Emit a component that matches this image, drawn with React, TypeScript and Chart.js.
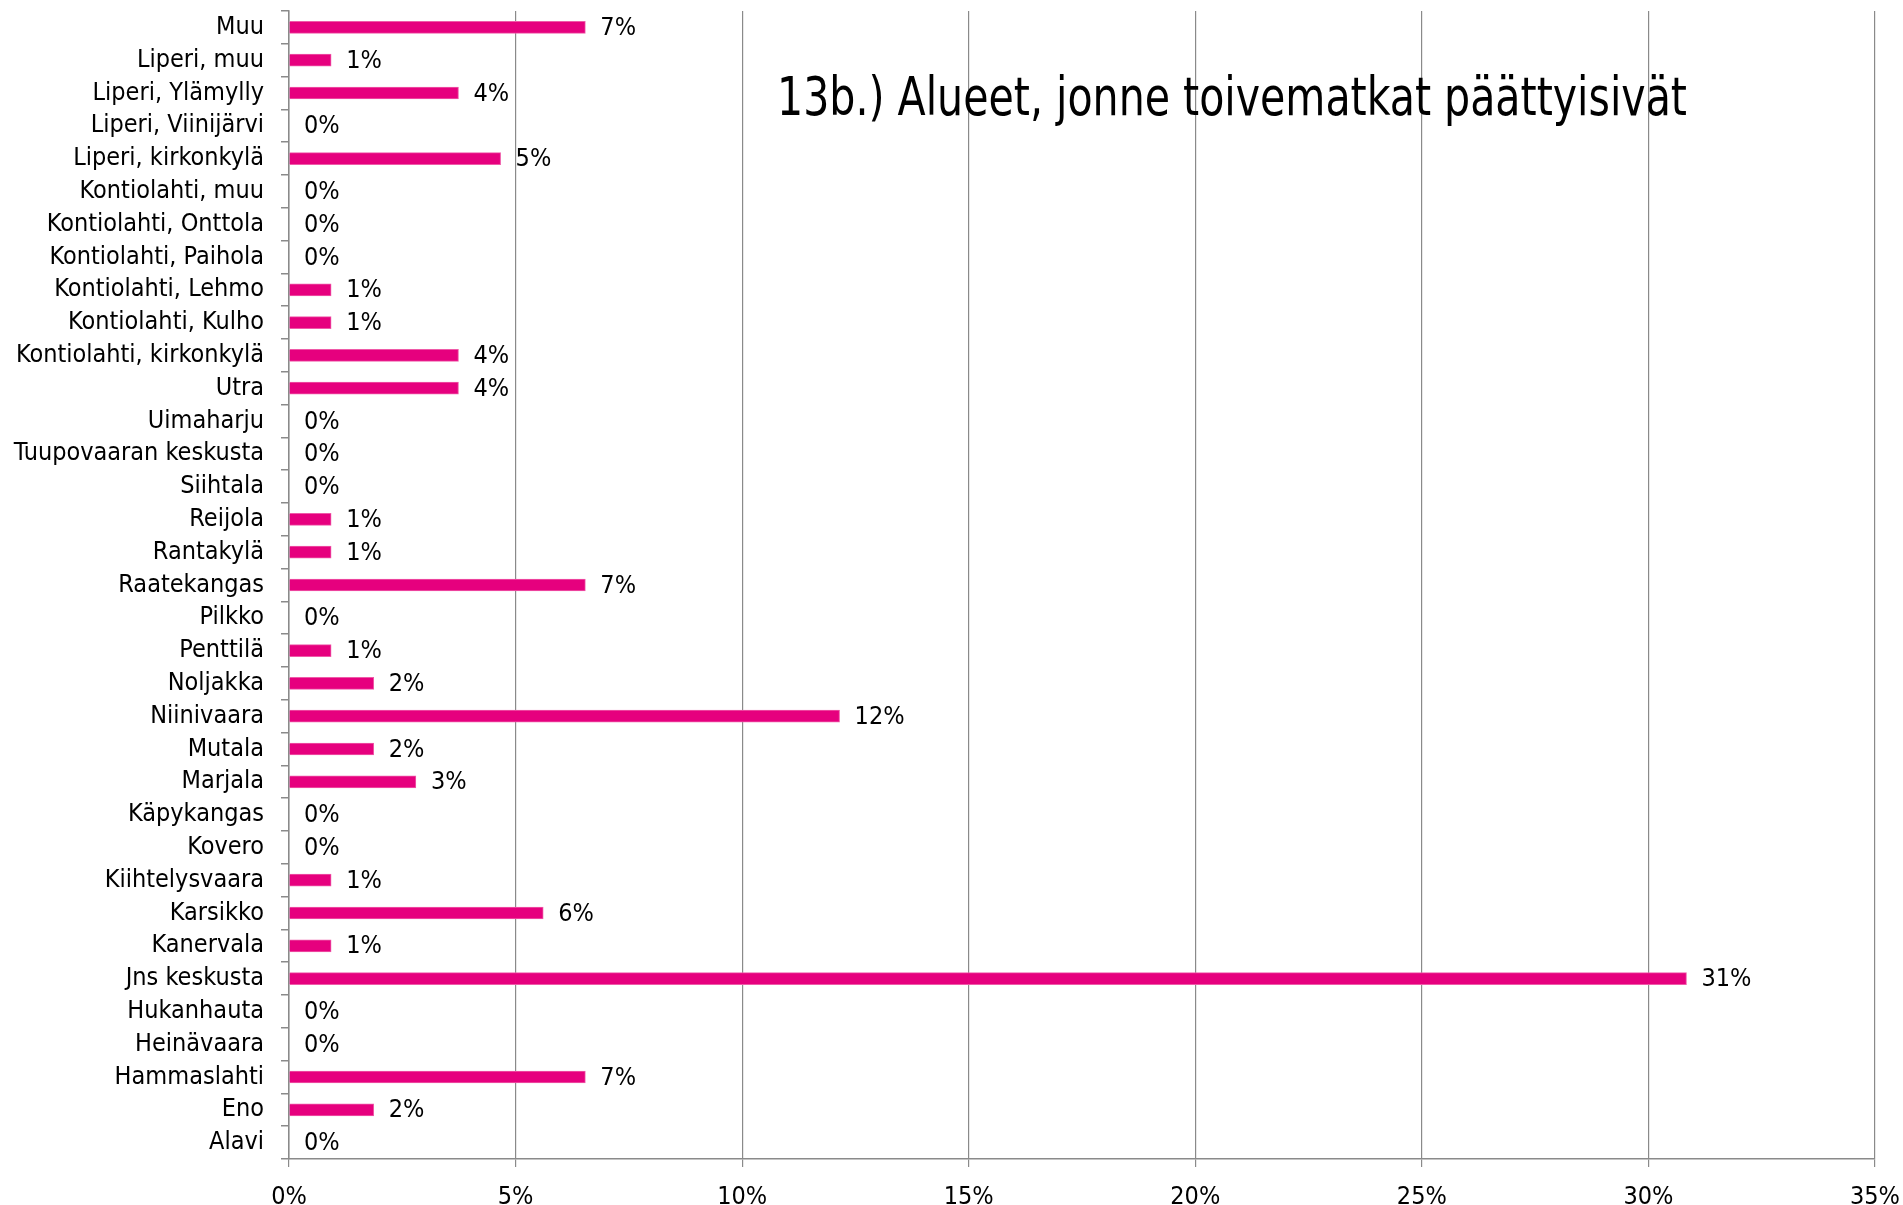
import React, { useEffect, useRef } from "react";
import { Chart, registerables } from "chart.js";

Chart.register(...registerables);

const TITLE = "13b.) Alueet, jonne toivematkat päättyisivät";

const categories: string[] = [
  "Muu",
  "Liperi, muu",
  "Liperi, Ylämylly",
  "Liperi, Viinijärvi",
  "Liperi, kirkonkylä",
  "Kontiolahti, muu",
  "Kontiolahti, Onttola",
  "Kontiolahti, Paihola",
  "Kontiolahti, Lehmo",
  "Kontiolahti, Kulho",
  "Kontiolahti, kirkonkylä",
  "Utra",
  "Uimaharju",
  "Tuupovaaran keskusta",
  "Siihtala",
  "Reijola",
  "Rantakylä",
  "Raatekangas",
  "Pilkko",
  "Penttilä",
  "Noljakka",
  "Niinivaara",
  "Mutala",
  "Marjala",
  "Käpykangas",
  "Kovero",
  "Kiihtelysvaara",
  "Karsikko",
  "Kanervala",
  "Jns keskusta",
  "Hukanhauta",
  "Heinävaara",
  "Hammaslahti",
  "Eno",
  "Alavi",
];

// percent values
const values: number[] = [
  6.54, 0.93, 3.74, 0, 4.67, 0, 0, 0, 0.93, 0.93, 3.74, 3.74, 0, 0, 0, 0.93,
  0.93, 6.54, 0, 0.93, 1.87, 12.15, 1.87, 2.8, 0, 0, 0.93, 5.61, 0.93, 30.84,
  0, 0, 6.54, 1.87, 0,
];

const xTicks: number[] = [0, 5, 10, 15, 20, 25, 30, 35];

const FONT = '"Liberation Sans Narrow", "DejaVu Sans Condensed", "Roboto Condensed", sans-serif';
const GRID = "#8a8a8a";
const BAR = "#E6007E";

export default function App() {
  const ref = useRef<HTMLCanvasElement | null>(null);

  useEffect(() => {
    document.body.style.margin = "0";
    const canvas = ref.current;
    if (!canvas) return;

    const titlePlugin = {
      id: "insideTitle",
      beforeDatasetsDraw(chart: any) {
        const ctx = chart.ctx;
        const x = chart.scales.x;
        const y = chart.scales.y;
        ctx.save();
        ctx.font = `53px ${FONT}`;
        ctx.fillStyle = "#000";
        ctx.textAlign = "left";
        ctx.textBaseline = "alphabetic";
        const left = x.getPixelForValue(10.77);
        const right = x.getPixelForValue(30.85);
        const w = ctx.measureText(TITLE).width;
        const sx = (right - left) / w;
        const base = (y.getPixelForValue(2) + y.getPixelForValue(3)) / 2 + 6;
        ctx.translate(left, base);
        ctx.scale(sx, 1);
        ctx.fillText(TITLE, 0, 0);
        ctx.restore();
      },
    };

    const labelPlugin = {
      id: "valueLabels",
      afterDatasetsDraw(chart: any) {
        const ctx = chart.ctx;
        const meta = chart.getDatasetMeta(0);
        const xs = chart.scales.x;
        ctx.save();
        ctx.font = `25px ${FONT}`;
        ctx.fillStyle = "#000";
        ctx.textAlign = "left";
        ctx.textBaseline = "middle";
        meta.data.forEach((bar: any, i: number) => {
          const v = values[i];
          const end = xs.getPixelForValue(v);
          ctx.fillText(Math.round(v) + "%", end + 15, bar.y + 1);
        });
        ctx.restore();
      },
    };

    const chart = new Chart(canvas, {
      type: "bar",
      data: {
        labels: categories,
        datasets: [
          {
            data: values,
            backgroundColor: BAR,
            borderColor: "#ef5aa8",
            borderWidth: 1,
            barThickness: 12,
          },
        ],
      },
      options: {
        indexAxis: "y",
        animation: false,
        responsive: false,
        maintainAspectRatio: false,
        layout: { padding: { top: 11, right: 28, left: 0, bottom: 0 } },
        plugins: {
          legend: { display: false },
          tooltip: { enabled: false },
          title: { display: false },
        },
        scales: {
          x: {
            min: 0,
            max: 35,
            afterBuildTicks: (axis: any) => {
              axis.ticks = xTicks.map((v) => ({ value: v }));
            },
            afterFit: (axis: any) => {
              axis.height = 46;
              axis.paddingLeft = 0;
              axis.paddingRight = 0;
            },
            ticks: {
              callback: (v: any) => v + "%",
              font: { family: FONT, size: 25 },
              color: "#000",
              padding: 15,
              maxRotation: 0,
            },
            grid: {
              color: GRID,
              lineWidth: 1.2,
              tickLength: 8,
              drawTicks: true,
            },
            border: { display: true, color: GRID, width: 1.5 },
          },
          y: {
            offset: true,
            afterFit: (axis: any) => {
              axis.width = 289;
              axis.paddingTop = 0;
              axis.paddingBottom = 0;
            },
            ticks: {
              font: { family: FONT, size: 25 },
              color: "#000",
              padding: 17,
              autoSkip: false,
            },
            grid: {
              offset: true,
              drawOnChartArea: false,
              drawTicks: true,
              tickLength: 8,
              color: GRID,
              lineWidth: 1.5,
            },
            border: { display: true, color: GRID, width: 1.5 },
          },
        },
      },
      plugins: [titlePlugin, labelPlugin],
    });

    return () => chart.destroy();
  }, []);

  return (
    <div style={{ position: "absolute", left: 0, top: 0, width: 1903, height: 1205, background: "#fff" }}>
      <canvas ref={ref} width={1903} height={1205} style={{ display: "block" }} />
    </div>
  );
}
